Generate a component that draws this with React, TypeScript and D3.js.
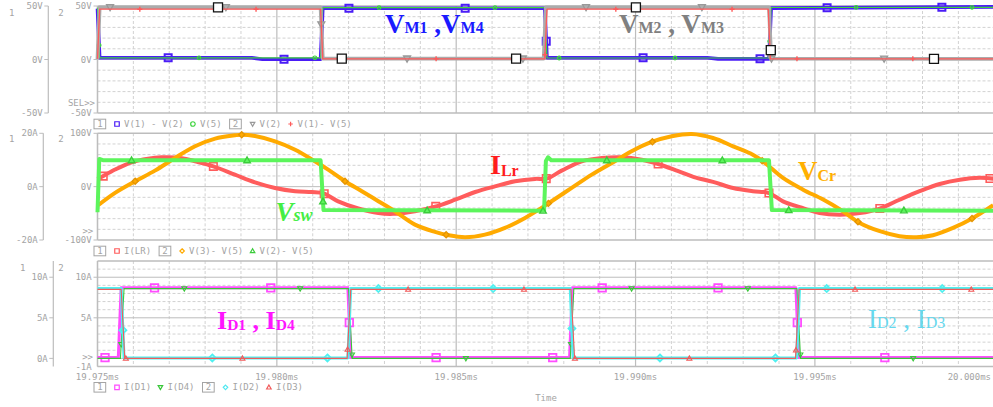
import React from 'react';
import * as d3 from 'd3';

const WIDTH = 993;
const HEIGHT = 407;

// ---------- time axis (µs) ----------
const timeDomain = [19975, 20000];
const timeMajor = [19975, 19980, 19985, 19990, 19995, 20000];
const timeLabels = ['19.975ms', '19.980ms', '19.985ms', '19.990ms', '19.995ms', '20.000ms'];

// ---------- panel 1: switch voltages (V) ----------
const vm14Time = [19975.0, 19975.06, 19979.3, 19979.6, 19981.22, 19981.28, 19987.47, 19987.53, 19992.0, 19992.3, 19993.72, 19993.78, 20000.0];
const vm14Val = [47.5, 1.6, 1.6, 0.2, 0.2, 47.9, 47.9, 1.6, 1.6, 0.6, 0.6, 48.0, 49.2];
const vm14Marks = [19976.97, 19980.2, 19982.01, 19985.25, 19987.51, 19990.21, 19993.47, 19995.34, 19998.54];

const v5Time = [19975.0, 19975.06, 19981.22, 19981.28, 19987.47, 19987.53, 19993.72, 19993.78, 20000.0];
const v5Val = [48.4, 1.6, 1.6, 48.4, 48.4, 1.4, 1.4, 48.6, 48.8];
const v5Marks = [19975.045, 19977.83, 19981.06, 19982.85, 19986.08, 19987.87, 19991.1, 19993.74, 19996.15, 19999.38];

const v2Time = [19975.0, 19975.06, 19981.22, 19981.28, 19987.44, 19987.5, 19993.72, 19993.78, 20000.0];
const v2Val = [0.5, 48.8, 48.8, 0.8, 0.8, 48.8, 48.8, 0.8, 0.5];
const v2Marks = [19975.35, 19978.58, 19981.24, 19983.63, 19986.86, 19988.62, 19991.85, 19993.79, 19996.93];
const v2ProbeMarks = [19978.36, 19981.81, 19986.67, 19990.01, 19993.77, 19998.32];

const v15Time = [19975.0, 19975.06, 19981.22, 19981.28, 19987.47, 19987.53, 19993.7, 19993.76, 20000.0];
const v15Val = [0.6, 47.0, 47.0, 0.6, 0.6, 47.0, 47.0, 0.6, 0.6];
const v15Marks = [19976.18, 19979.42, 19984.44, 19987.475, 19989.45, 19992.69, 19994.5, 19997.73];

// ---------- panel 2: resonant tank ----------
const iLrTime = [
  19975.0, 19975.07, 19975.49, 19975.95, 19976.41, 19976.79, 19977.35, 19977.72, 19978.23, 19978.83, 19979.39,
  19979.95, 19980.51, 19980.97, 19981.3, 19981.71, 19982.27, 19982.83, 19983.24, 19983.85, 19984.41,
  19984.97, 19985.53, 19986.08, 19986.64, 19987.2, 19987.52, 19987.94, 19988.5, 19989.06, 19989.61,
  19990.17, 19990.63, 19991.19, 19991.63, 19992.16, 19992.72, 19993.27, 19993.72, 19994.11, 19994.58,
  19995.13, 19995.69, 19996.25, 19996.81, 19997.36, 19997.92, 19998.48, 19999.04, 19999.6, 19999.97,
];
const iLrVal = [
  2.8, 3.3, 6.4, 9.1, 10.5, 11.0, 10.7, 9.5, 7.6, 4.5, 1.6,
  -0.5, -1.7, -2.0, -2.5, -5.5, -8.2, -9.9, -10.2, -9.2, -7.5,
  -4.9, -2.0, 0.1, 2.0, 2.9, 3.0, 6.0, 9.5, 10.7, 11.0,
  10.1, 8.5, 5.8, 3.6, 1.8, -0.5, -1.7, -2.4, -5.5, -7.7,
  -9.9, -10.5, -9.9, -8.2, -4.9, -1.7, 1.0, 2.6, 3.3, 3.0,
];
const iLrMarks = [19975.16, 19978.23, 19981.32, 19984.43, 19987.51, 19990.63, 19993.72, 19996.81, 19999.88];

const vCrTime = [
  19975.02, 19975.49, 19976.05, 19976.6, 19977.16, 19977.72, 19978.28, 19978.83, 19979.02, 19979.39,
  19979.95, 19980.51, 19981.06, 19981.43, 19981.9, 19982.37, 19982.83, 19983.29, 19983.85, 19984.41,
  19984.78, 19985.25, 19985.8, 19986.36, 19986.92, 19987.38, 19987.66, 19988.22, 19988.78, 19989.34,
  19989.89, 19990.45, 19991.01, 19991.57, 19992.16, 19992.72, 19993.27, 19993.55, 19994.11, 19994.67,
  19995.23, 19995.78, 19996.25, 19996.81, 19997.36, 19997.83, 19998.29, 19998.85, 19999.41, 19999.97,
];
const vCrVal = [
  -34.9, -11.8, 10.0, 30.0, 53.7, 75.6, 89.9, 96.2, 97.4, 94.9,
  85.0, 69.3, 47.6, 31.8, 10.1, -8.6, -27.3, -46.1, -71.2, -84.8,
  -91.0, -94.8, -89.9, -77.3, -58.6, -39.9, -27.3, -2.4, 22.5, 44.4,
  66.3, 83.7, 94.4, 98.7, 91.2, 75.6, 59.9, 47.6, 16.3, -5.6,
  -24.3, -46.1, -68.0, -83.5, -92.9, -94.8, -91.0, -77.3, -58.6, -34.9,
];
const vCrMarks = [19976.05, 19979.02, 19981.9, 19984.72, 19987.57, 19990.47, 19993.53, 19996.2, 19999.38];

const vswTime = [19975.0, 19975.05, 19975.15, 19981.22, 19981.3, 19987.45, 19987.5, 19987.56, 19987.65, 19993.72, 19993.8, 20000.0];
const vswVal = [-48, 52, 49.5, 49.5, -44, -45, 48, 55, 49.5, 49.5, -44, -45];
const vswMarks = [19975.95, 19979.17, 19981.286, 19984.19, 19987.42, 19989.2, 19992.42, 19994.27, 19997.48];

// ---------- panel 3: rectifier diode currents (A) ----------
const d1Time = [19975.0, 19975.58, 19975.66, 19981.98, 19982.06, 19988.16, 19988.24, 19994.47, 19994.55, 20000.0];
const d1Val = [0.1, 0.1, 8.7, 8.7, 0.1, 0.1, 8.7, 8.7, 0.1, 0.1];
const d1Marks = [19975.21, 19976.59, 19979.83, 19982.02, 19984.44, 19987.69, 19989.07, 19992.3, 19994.51, 19996.95];

const d4Time = [19975.0, 19975.64, 19975.74, 19982.0, 19982.1, 19988.18, 19988.28, 19994.5, 19994.6, 20000.0];
const d4Val = [0, 0, 8.6, 8.6, 0, 0, 8.6, 8.6, 0, 0];
const d4Marks = [19975.66, 19977.42, 19980.65, 19982.095, 19985.27, 19988.2, 19989.89, 19993.13, 19994.595, 19997.74];

const d2Time = [19975.0, 19975.66, 19975.74, 19981.98, 19982.06, 19988.18, 19988.26, 19994.49, 19994.57, 20000.0];
const d2Val = [8.6, 8.6, 0.05, 0.05, 8.6, 8.6, 0.05, 0.05, 8.6, 8.6];
const d2Marks = [19975.708, 19978.2, 19981.41, 19982.83, 19986.03, 19988.226, 19990.68, 19993.9, 19995.33, 19998.55];

const d3Time = [19975.0, 19975.66, 19975.76, 19981.96, 19982.06, 19988.2, 19988.3, 19994.46, 19994.56, 20000.0];
const d3Val = [8.5, 8.5, 0, 0, 8.5, 8.5, 0, 0, 8.5, 8.5];
const d3Marks = [19975.79, 19979.04, 19981.973, 19983.66, 19986.89, 19988.31, 19991.5, 19994.472, 19996.12, 19999.36];

// ---------- axis tick labels ----------
const p1Ticks = [50, 0, -50];
const p1Labels = ['50V', '0V', '-50V'];
const p2Ticks1 = [20, 0, -20];
const p2Labels1 = ['20A', '0A', '-20A'];
const p2Ticks2 = [100, 0, -100];
const p2Labels2 = ['100V', '0V', '-100V'];
const p3Ticks1 = [10, 5, 0];
const p3Labels1 = ['10A', '5A', '0A'];
const p3Ticks2 = [10, 5, -1];
const p3Labels2 = ['10A', '5A', '-1A'];

// ---------- layout ----------
const PLOT_L = 97.5;
const PLOT_R = 994.25;
const VIEW_R = 993;
const P1 = { top: 6, bottom: 113 };
const P2 = { top: 133.3, bottom: 240 };
const P3 = { top: 261, bottom: 366.5 };

const MONO = "'DejaVu Sans Mono', 'Liberation Mono', monospace";
const SERIF = "'Liberation Serif', 'Times New Roman', serif";
const AXIS_TEXT = '#a4a4a4';
const GRID_MAJOR = '#bdbdbd';
const GRID_MINOR = '#d2d2d2';

const x = d3.scaleLinear().domain(timeDomain).range([PLOT_L, PLOT_R]);
const y1 = d3.scaleLinear().domain([-50, 50]).range([P1.bottom, P1.top]);
const y2A = d3.scaleLinear().domain([-20, 20]).range([P2.bottom, P2.top]);
const y2V = d3.scaleLinear().domain([-100, 100]).range([P2.bottom, P2.top]);
const y3 = d3.scaleLinear().domain([-1, 12]).range([P3.bottom, P3.top]);

type Shape = 'square' | 'circle' | 'diamond' | 'tri' | 'itri' | 'plus';

function valueAt(ts: number[], vs: number[], t: number): number {
  if (t <= ts[0]) return vs[0];
  for (let i = 1; i < ts.length; i++) {
    if (t <= ts[i]) {
      const f = (t - ts[i - 1]) / (ts[i] - ts[i - 1]);
      return vs[i - 1] + f * (vs[i] - vs[i - 1]);
    }
  }
  return vs[vs.length - 1];
}

function markerPath(shape: Shape, cx: number, cy: number, s: number): string {
  const h = s / 2;
  switch (shape) {
    case 'square':
      return `M${cx - h},${cy - h}h${s}v${s}h${-s}Z`;
    case 'diamond':
      return `M${cx},${cy - h}L${cx + h},${cy}L${cx},${cy + h}L${cx - h},${cy}Z`;
    case 'tri':
      return `M${cx},${cy - h}L${cx + h},${cy + h * 0.75}L${cx - h},${cy + h * 0.75}Z`;
    case 'itri':
      return `M${cx - h},${cy - h * 0.75}L${cx + h},${cy - h * 0.75}L${cx},${cy + h}Z`;
    case 'plus':
      return `M${cx - h},${cy}H${cx + h}M${cx},${cy - h}V${cy + h}`;
    case 'circle':
    default:
      return `M${cx - h},${cy}a${h},${h} 0 1,0 ${s},0a${h},${h} 0 1,0 ${-s},0`;
  }
}

interface Trace {
  t: number[];
  v: number[];
  color: string;
  width: number;
  curve?: d3.CurveFactory;
  marks: number[];
  shape: Shape;
  mSize: number;
  mColor?: string;
  mFill?: string;
  mStroke?: number;
}

function TraceView({ tr, y }: { tr: Trace; y: d3.ScaleLinear<number, number> }) {
  const pts: [number, number][] = tr.t.map((t, i) => [t, tr.v[i]]);
  const line = d3
    .line<[number, number]>()
    .x((d) => x(d[0]))
    .y((d) => y(d[1]))
    .curve(tr.curve || d3.curveLinear);
  return (
    <g>
      <path d={line(pts) || ''} fill="none" stroke={tr.color} strokeWidth={tr.width} strokeLinejoin="round" strokeLinecap="butt" />
      {tr.marks.map((m, i) => (
        <path
          key={i}
          d={markerPath(tr.shape, x(m), y(valueAt(tr.t, tr.v, m)), tr.mSize)}
          fill={tr.mFill || 'none'}
          stroke={tr.mColor || tr.color}
          strokeWidth={tr.mStroke || 1.3}
        />
      ))}
    </g>
  );
}

function Grid({ top, bottom, hLines, hMajor }: { top: number; bottom: number; hLines: number[]; hMajor: number[] }) {
  const minorT = d3.range(19976, 20000, 1).filter((t) => !timeMajor.includes(t));
  return (
    <g>
      {minorT.map((t) => (
        <line key={'vm' + t} x1={x(t)} x2={x(t)} y1={top} y2={bottom} stroke={GRID_MINOR} strokeDasharray="3,2" strokeWidth={1} />
      ))}
      {hLines.map((yy, i) => (
        <line
          key={'h' + i}
          x1={PLOT_L}
          x2={VIEW_R}
          y1={yy}
          y2={yy}
          stroke={hMajor.includes(i) ? GRID_MAJOR : GRID_MINOR}
          strokeDasharray={hMajor.includes(i) ? undefined : '3,2'}
          strokeWidth={1}
        />
      ))}
      {timeMajor.map((t) => (
        <line key={'vM' + t} x1={x(t)} x2={x(t)} y1={top} y2={bottom} stroke={GRID_MAJOR} strokeWidth={1.2} />
      ))}
      <line x1={PLOT_L} x2={VIEW_R} y1={top} y2={top} stroke={GRID_MAJOR} strokeWidth={1.4} />
      <line x1={PLOT_L} x2={VIEW_R} y1={bottom} y2={bottom} stroke={GRID_MAJOR} strokeWidth={1.4} />
      <line x1={PLOT_L} x2={PLOT_L} y1={top} y2={bottom} stroke={GRID_MAJOR} strokeWidth={1.4} />
    </g>
  );
}

function AxisText({ xPos, yPos, text, anchor = 'end' }: { xPos: number; yPos: number; text: string; anchor?: string }) {
  return (
    <text x={xPos} y={yPos} dy="0.35em" textAnchor={anchor as any} fontFamily={MONO} fontSize={9} fill={AXIS_TEXT}>
      {text}
    </text>
  );
}

function LeftAxes(props: {
  top: number;
  bottom: number;
  axisX: number;
  numX: number;
  numY: number;
  ticks1: number[];
  labels1: string[];
  s1: (v: number) => number;
  ticks2: number[];
  labels2: string[];
  s2: (v: number) => number;
}) {
  const { top, bottom, axisX, numX, numY, ticks1, labels1, s1, ticks2, labels2, s2 } = props;
  return (
    <g>
      <line x1={axisX} x2={axisX} y1={top} y2={bottom} stroke={GRID_MAJOR} strokeWidth={1.2} />
      {ticks1.map((t, i) => (
        <g key={'a1' + i}>
          <line x1={axisX - 4} x2={axisX} y1={s1(t)} y2={s1(t)} stroke={GRID_MAJOR} />
          <AxisText xPos={axisX - 5.5} yPos={s1(t)} text={labels1[i]} />
        </g>
      ))}
      {ticks2.map((t, i) => (
        <g key={'a2' + i}>
          <line x1={PLOT_L - 4} x2={PLOT_L} y1={s2(t)} y2={s2(t)} stroke={GRID_MAJOR} />
          <AxisText xPos={PLOT_L - 5.8} yPos={s2(t)} text={labels2[i]} />
        </g>
      ))}
      <AxisText xPos={numX} yPos={numY} text="1" anchor="middle" />
      <AxisText xPos={61} yPos={numY} text="2" anchor="middle" />
    </g>
  );
}

type LegendItem = { box: string } | { shape: Shape; color: string; label: string };

function Legend({ y, items }: { y: number; items: LegendItem[] }) {
  const CH = 5.42;
  let cx = 94;
  let prevBox = false;
  const els: React.ReactNode[] = [];
  items.forEach((it, i) => {
    if ('box' in it) {
      if (i > 0) cx += 8;
      els.push(
        <g key={i}>
          <rect x={cx} y={y - 4.8} width={11.7} height={9.6} fill="none" stroke={AXIS_TEXT} strokeWidth={1} />
          <AxisText xPos={cx + 5.85} yPos={y} text={it.box} anchor="middle" />
        </g>
      );
      cx += 11.7;
      prevBox = true;
    } else {
      cx += prevBox ? 11.3 : 9.3;
      els.push(
        <path key={'m' + i} d={markerPath(it.shape, cx, y, 4.5)} fill="none" stroke={it.color} strokeWidth={1.2} />
      );
      cx += 7;
      els.push(<AxisText key={'t' + i} xPos={cx} yPos={y} text={it.label} anchor="start" />);
      cx += it.label.length * CH;
      prevBox = false;
    }
  });
  return <g>{els}</g>;
}

// ---------- trace styling ----------
const panel1Traces: Trace[] = [
  { t: vm14Time, v: vm14Val, color: '#4a1cf6', width: 3.6, marks: vm14Marks, shape: 'square', mSize: 7, mStroke: 2 },
  { t: v5Time, v: v5Val, color: '#3fd43f', width: 1.2, marks: v5Marks, shape: 'circle', mSize: 3.6, mStroke: 1.2 },
  { t: v2Time, v: v2Val, color: '#ababab', width: 3.8, marks: v2Marks, shape: 'itri', mSize: 7, mColor: '#999999', mFill: '#b0b0b0' },
  { t: v15Time, v: v15Val, color: '#ff5a5a', width: 1.3, marks: v15Marks, shape: 'plus', mSize: 5, mStroke: 1.4 },
  { t: v2Time, v: v2Val, color: 'none', width: 0, marks: v2ProbeMarks, shape: 'square', mSize: 9, mColor: '#111111', mFill: '#ffffff', mStroke: 1.3 },
];

const panel2Traces: { tr: Trace; s: d3.ScaleLinear<number, number> }[] = [
  { tr: { t: iLrTime, v: iLrVal, color: '#ff5c5c', width: 4, curve: d3.curveCatmullRom.alpha(0.5), marks: iLrMarks, shape: 'square', mSize: 7.5, mStroke: 1.6 }, s: y2A },
  { tr: { t: vCrTime, v: vCrVal, color: '#ffaa00', width: 4, curve: d3.curveCatmullRom.alpha(0.5), marks: vCrMarks, shape: 'diamond', mSize: 6, mColor: '#e59400', mStroke: 1.4 }, s: y2V },
  { tr: { t: vswTime, v: vswVal, color: '#5cf55c', width: 4, marks: vswMarks, shape: 'tri', mSize: 6.5, mColor: '#3ccc3c', mStroke: 1.4 }, s: y2V },
];

const panel3Traces: Trace[] = [
  { t: d1Time, v: d1Val, color: '#ff4dff', width: 3, marks: d1Marks, shape: 'square', mSize: 7.5, mStroke: 1.8 },
  { t: d4Time, v: d4Val, color: '#39c739', width: 1.1, marks: d4Marks, shape: 'itri', mSize: 5, mStroke: 1.1 },
  { t: d2Time, v: d2Val, color: '#50f0f0', width: 3, marks: d2Marks, shape: 'diamond', mSize: 7, mStroke: 1.8 },
  { t: d3Time, v: d3Val, color: '#f25a5a', width: 1.1, marks: d3Marks, shape: 'tri', mSize: 5, mStroke: 1.1 },
];

function Sub({ children, size }: { children: React.ReactNode; size: number }) {
  return <tspan fontSize={size}>{children}</tspan>;
}

export default function App() {
  const p1H = d3.range(-40, 41, 10).map((v) => y1(v));
  const p1Major = d3.range(-40, 41, 10).map((v, i) => (v === 0 ? i : -1)).filter((i) => i >= 0);
  const p2H = d3.range(-80, 81, 20).map((v) => y2V(v));
  const p2Major = d3.range(-80, 81, 20).map((v, i) => (v === 0 ? i : -1)).filter((i) => i >= 0);
  const p3Vals = d3.range(0, 12, 1);
  const p3H = p3Vals.map((v) => y3(v));
  const p3Major = p3Vals.map((v, i) => (v % 5 === 0 ? i : -1)).filter((i) => i >= 0);

  return (
    <svg
      width={WIDTH}
      height={HEIGHT}
      viewBox={`0 0 ${WIDTH} ${HEIGHT}`}
      style={{ position: 'absolute', left: 0, top: 0, background: '#ffffff' }}
    >
      <rect x={0} y={0} width={WIDTH} height={HEIGHT} fill="#ffffff" />
      <defs>
        <clipPath id="plotClip">
          <rect x={PLOT_L - 6} y={0} width={VIEW_R - PLOT_L + 6} height={HEIGHT} />
        </clipPath>
      </defs>

      {/* grids */}
      <Grid top={P1.top} bottom={P1.bottom} hLines={p1H} hMajor={p1Major} />
      <Grid top={P2.top} bottom={P2.bottom} hLines={p2H} hMajor={p2Major} />
      <Grid top={P3.top} bottom={P3.bottom} hLines={p3H} hMajor={p3Major} />

      {/* left axes */}
      <LeftAxes top={P1.top} bottom={P1.bottom} axisX={48.3} numX={11.7} numY={13.3}
        ticks1={p1Ticks} labels1={p1Labels} s1={y1} ticks2={p1Ticks} labels2={p1Labels} s2={y1} />
      <AxisText xPos={95} yPos={102.7} text="SEL>>" />
      <LeftAxes top={P2.top} bottom={P2.bottom} axisX={43.3} numX={11.7} numY={139}
        ticks1={p2Ticks1} labels1={p2Labels1} s1={y2A} ticks2={p2Ticks2} labels2={p2Labels2} s2={y2V} />
      <AxisText xPos={93.3} yPos={231} text=">>" />
      <LeftAxes top={P3.top} bottom={P3.bottom} axisX={53.3} numX={22.7} numY={267.7}
        ticks1={p3Ticks1} labels1={p3Labels1} s1={y3} ticks2={p3Ticks2.filter((t) => t !== -1)} labels2={p3Labels2.filter((l) => l !== '-1A')} s2={y3} />
      <AxisText xPos={93} yPos={356.7} text=">>" />
      <AxisText xPos={PLOT_L - 5.8} yPos={y3(-1) + 0.8} text={p3Labels2[2]} />

      {/* time axis */}
      {timeMajor.map((t, i) => (
        <AxisText key={t} xPos={i === timeMajor.length - 1 ? 991 : x(t)} yPos={377.3} text={timeLabels[i]}
          anchor={i === timeMajor.length - 1 ? 'end' : 'middle'} />
      ))}
      <AxisText xPos={546} yPos={397.7} text="Time" anchor="middle" />

      {/* traces */}
      <g clipPath="url(#plotClip)">
        {panel1Traces.map((tr, i) => (
          <TraceView key={'p1' + i} tr={tr} y={y1} />
        ))}
        {panel2Traces.map((p, i) => (
          <TraceView key={'p2' + i} tr={p.tr} y={p.s} />
        ))}
        {panel3Traces.map((tr, i) => (
          <TraceView key={'p3' + i} tr={tr} y={y3} />
        ))}
      </g>

      {/* legends */}
      <Legend y={124} items={[
        { box: '1' },
        { shape: 'square', color: '#4a1cf6', label: 'V(1) - V(2)' },
        { shape: 'circle', color: '#3fd43f', label: 'V(5)' },
        { box: '2' },
        { shape: 'itri', color: '#999999', label: 'V(2)' },
        { shape: 'plus', color: '#ff5a5a', label: 'V(1)- V(5)' },
      ]} />
      <Legend y={251} items={[
        { box: '1' },
        { shape: 'square', color: '#ff5c5c', label: 'I(LR)' },
        { box: '2' },
        { shape: 'diamond', color: '#ffaa00', label: 'V(3)- V(5)' },
        { shape: 'tri', color: '#3ccc3c', label: 'V(2)- V(5)' },
      ]} />
      <Legend y={387.3} items={[
        { box: '1' },
        { shape: 'square', color: '#ff4dff', label: 'I(D1)' },
        { shape: 'itri', color: '#39c739', label: 'I(D4)' },
        { box: '2' },
        { shape: 'diamond', color: '#50e8f0', label: 'I(D2)' },
        { shape: 'tri', color: '#f25a5a', label: 'I(D3)' },
      ]} />

      {/* annotations */}
      <text x={385} y={33} fontFamily={SERIF} fontWeight="bold" fontSize={27} fill="#1a1aff">
        V<Sub size={16}>M1</Sub> ,V<Sub size={16}>M4</Sub>
      </text>
      <text x={619} y={33} fontFamily={SERIF} fontWeight="bold" fontSize={27} fill="#808080">
        V<Sub size={16}>M2</Sub> , V<Sub size={16}>M3</Sub>
      </text>
      <text x={490} y={174} fontFamily={SERIF} fontWeight="bold" fontSize={28} fill="#ff1c1c">
        I<tspan fontSize={16} dy={1.5}>Lr</tspan>
      </text>
      <text x={798} y={179.7} fontFamily={SERIF} fontWeight="bold" fontSize={27} fill="#ffb000">
        V<tspan fontSize={16} dy={1}>Cr</tspan>
      </text>
      <text x={275.5} y={220.7} fontFamily={SERIF} fontWeight="bold" fontStyle="italic" fontSize={27} fill="#44ee44">
        V<tspan fontSize={18} dy={0.5}>sw</tspan>
      </text>
      <text x={217} y={329} fontFamily={SERIF} fontWeight="bold" fontSize={26} fill="#ff14ff">
        I<tspan fontSize={15.5} dy={1}>D1</tspan><tspan dy={-1}> , </tspan>I<tspan fontSize={15.5} dy={1}>D4</tspan>
      </text>
      <text x={868} y={328.3} fontFamily={SERIF} fontSize={27} fill="#66d8ee">
        I<tspan fontSize={16}>D2</tspan> , I<tspan fontSize={16}>D3</tspan>
      </text>
    </svg>
  );
}
